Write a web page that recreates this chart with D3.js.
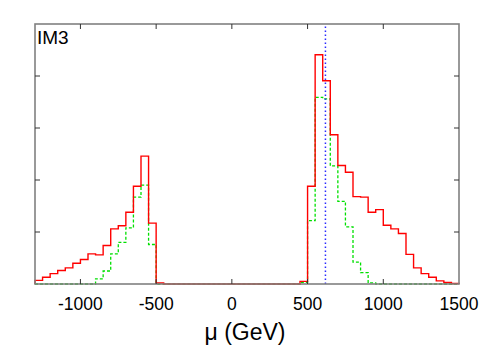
<!DOCTYPE html>
<html>
<head>
<meta charset="utf-8">
<script src="https://cdn.jsdelivr.net/npm/d3@7"></script>
<style>
  body { margin: 0; background: #fff; }
  svg { display: block; font-family: "Liberation Sans", Arial, sans-serif; }
</style>
</head>
<body>
<svg id="chart" width="494" height="346"></svg>
<script>
// bin lower edges, 50 GeV wide
const binStart = -1300;
const binWidth = 50;

// red (solid) histogram, one value per bin from -1300 to 1500
const redValues = [
  0.07, 0.13, 0.20, 0.26, 0.31, 0.40, 0.47, 0.58, 0.56, 0.74,
  1.06, 1.12, 1.38, 1.88, 2.46, 1.17, 0.02, 0, 0, 0,
  0, 0, 0, 0, 0, 0, 0, 0, 0, 0,
  0, 0, 0, 0, 0, 0.05, 1.88, 4.41, 3.91, 2.87,
  2.28, 2.15, 1.68, 1.67, 1.38, 1.43, 1.13, 1.06, 0.97, 0.57,
  0.31, 0.20, 0.13, 0.06, 0.03, 0.01
];

// green (dashed) histogram
const greenValues = [
  0, 0, 0, 0, 0, 0, 0, 0, 0.10, 0.25,
  0.58, 0.80, 1.08, 1.67, 1.90, 0.76, 0, 0, 0, 0,
  0, 0, 0, 0, 0, 0, 0, 0, 0, 0,
  0, 0, 0, 0, 0, 0.03, 1.22, 3.59, 3.56, 2.27,
  1.59, 1.10, 0.42, 0.22, 0.02, 0, 0, 0, 0, 0,
  0, 0, 0, 0, 0, 0
];

const xTicks = [-1000, -500, 0, 500, 1000, 1500];
const yTicks = [1, 2, 3, 4];
const markerX = 618;

const svg = d3.select("#chart");
const margin = { left: 35, right: 35, top: 24, bottom: 62 };
const width = 494, height = 346;

const x = d3.scaleLinear().domain([-1300, 1500]).range([margin.left, width - margin.right]);
const y = d3.scaleLinear().domain([0, 5]).range([height - margin.bottom, margin.top]);

// build step path points
function stepPoints(values) {
  const pts = [[binStart, 0]];
  values.forEach((v, i) => {
    const x0 = binStart + i * binWidth;
    pts.push([x0, v]);
    pts.push([x0 + binWidth, v]);
  });
  pts.push([binStart + values.length * binWidth, 0]);
  return pts;
}

const line = d3.line().x(d => x(d[0])).y(d => y(d[1]));

// histograms
svg.append("path")
  .attr("d", line(stepPoints(greenValues)))
  .attr("fill", "none")
  .attr("stroke", "#00e000")
  .attr("stroke-width", 1.3)
  .attr("stroke-dasharray", "3,2");

svg.append("path")
  .attr("d", line(stepPoints(redValues)))
  .attr("fill", "none")
  .attr("stroke", "#ff0000")
  .attr("stroke-width", 1.4);

// blue dotted marker line
svg.append("line")
  .attr("x1", x(markerX)).attr("x2", x(markerX))
  .attr("y1", y(0)).attr("y2", y(5))
  .attr("stroke", "#2a2aff")
  .attr("stroke-width", 1.5)
  .attr("stroke-dasharray", "1.5,2.5");

// frame
svg.append("rect")
  .attr("x", x(-1300)).attr("y", y(5))
  .attr("width", x(1500) - x(-1300))
  .attr("height", y(0) - y(5))
  .attr("fill", "none")
  .attr("stroke", "#808080")
  .attr("stroke-width", 1.6);

// ticks, inward on all four sides
const tickLen = 5;
const tickG = svg.append("g").attr("stroke", "#333").attr("stroke-width", 1);
xTicks.forEach(t => {
  if (t >= 1500) return;
  tickG.append("line").attr("x1", x(t)).attr("x2", x(t)).attr("y1", y(0)).attr("y2", y(0) - tickLen);
  tickG.append("line").attr("x1", x(t)).attr("x2", x(t)).attr("y1", y(5)).attr("y2", y(5) + tickLen);
});
yTicks.forEach(t => {
  tickG.append("line").attr("x1", x(-1300)).attr("x2", x(-1300) + tickLen).attr("y1", y(t)).attr("y2", y(t));
  tickG.append("line").attr("x1", x(1500)).attr("x2", x(1500) - tickLen).attr("y1", y(t)).attr("y2", y(t));
});

// tick labels
svg.append("g")
  .selectAll("text")
  .data(xTicks)
  .enter().append("text")
  .attr("x", d => x(d))
  .attr("y", 310)
  .attr("text-anchor", "middle")
  .attr("font-size", 17.5)
  .attr("fill", "#000")
  .text(d => d);

// axis title
svg.append("text")
  .attr("x", 245)
  .attr("y", 340)
  .attr("text-anchor", "middle")
  .attr("font-size", 23)
  .attr("fill", "#000")
  .text("\u03bc (GeV)");

// panel label
svg.append("text")
  .attr("x", 37)
  .attr("y", 44)
  .attr("font-size", 19)
  .attr("fill", "#000")
  .text("IM3");
</script>
</body>
</html>
